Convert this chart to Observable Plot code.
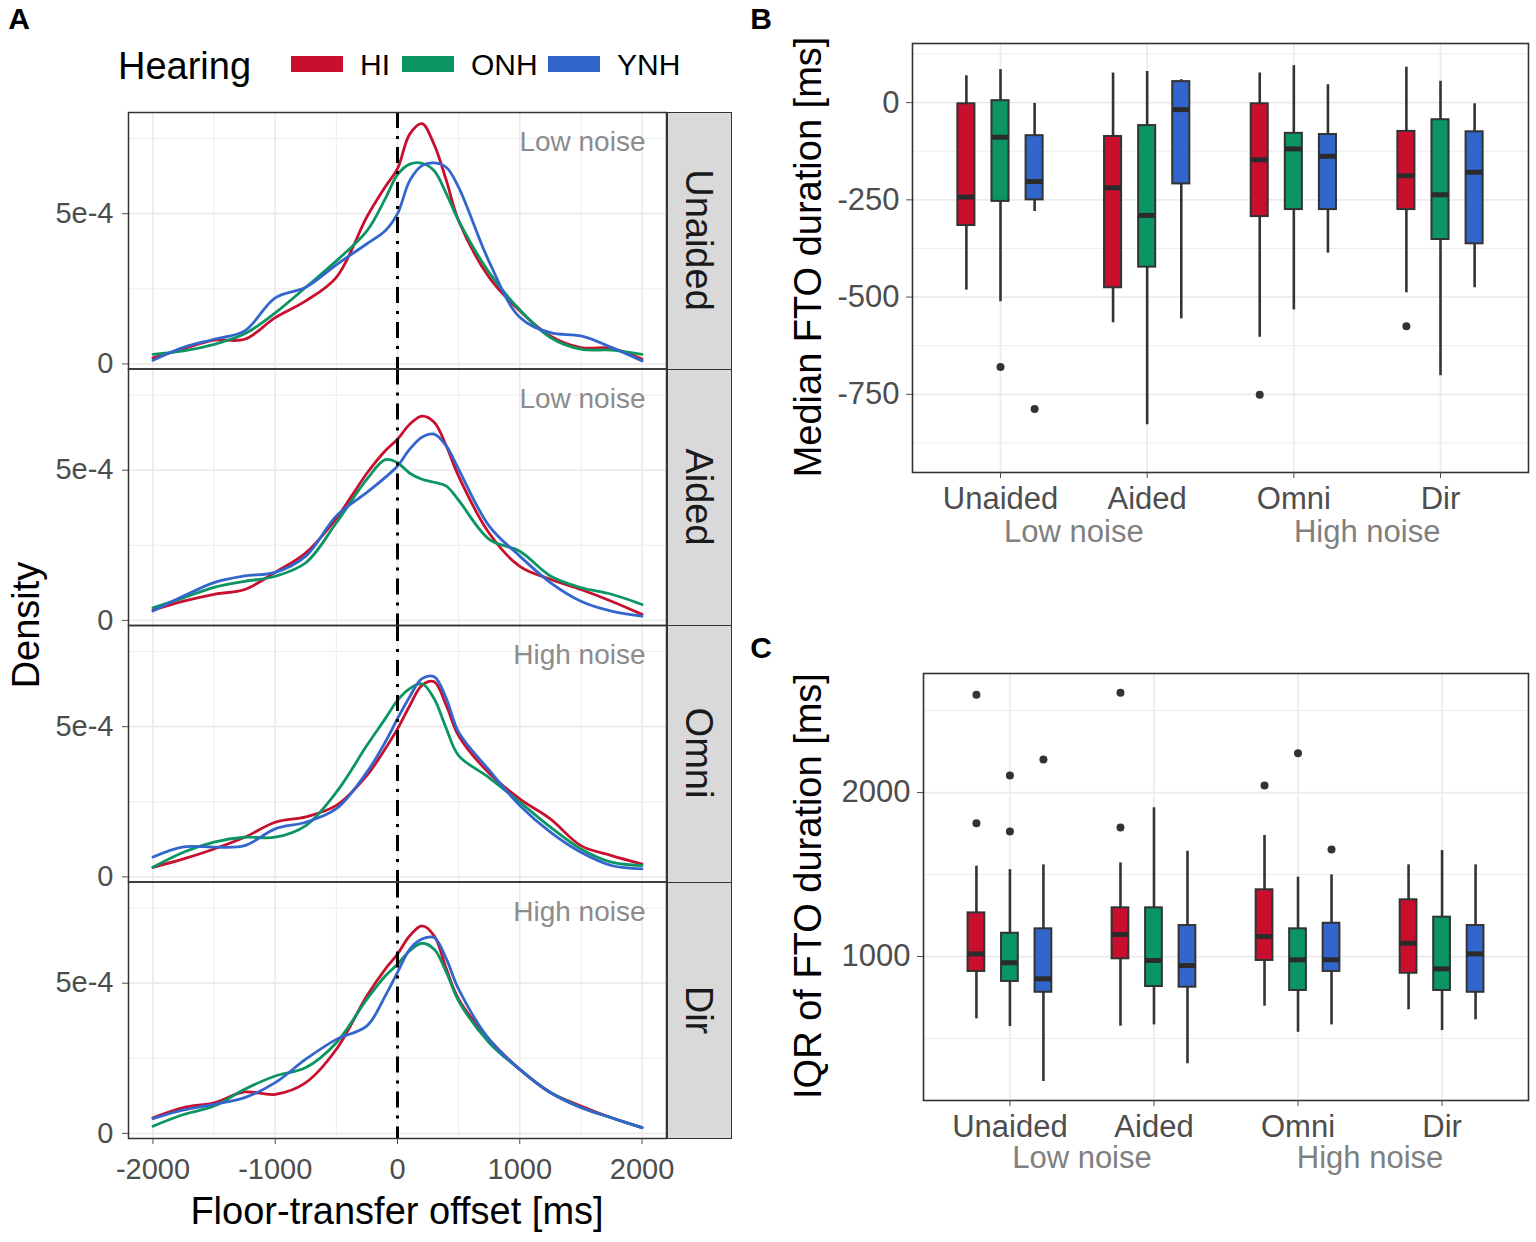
<!DOCTYPE html>
<html><head><meta charset="utf-8">
<script src="https://cdn.jsdelivr.net/npm/d3@7"></script>
<script src="https://cdn.jsdelivr.net/npm/@observablehq/plot@0.6"></script>
<style>
body{margin:0;background:#fff;}
#root{position:relative;width:1536px;height:1242px;overflow:hidden;background:#fff;font-family:'Liberation Sans',Arial,Helvetica,sans-serif;}
#root svg{position:absolute;}
.t{position:absolute;white-space:nowrap;line-height:1;}
.strip{position:absolute;box-sizing:border-box;background:#d9d9d9;border:1.5px solid #333;}
</style></head>
<body><div id="root"></div>
<script>
// ---------- data ----------
const conditions = ["Unaided", "Aided", "Omni", "Dir"];
const groups = ["HI", "ONH", "YNH"];
const groupColors = ["#c8102e", "#0b9563", "#3366cc"];
const noiseLevels = ["Low noise", "Low noise", "High noise", "High noise"];
const noiseGroupAt = ["Unaided", "Omni"];
const noiseGroupLabels = ["Low noise", "High noise"];

// Panel A: density (units of 1e-4) at these offsets [ms]
const offsetsMs = [-2000,-1750,-1500,-1250,-1000,-750,-500,-250,-100,0,100,200,300,400,500,750,1000,1250,1500,1750,2000];
const unaidedHI  = [0.20,0.50,0.79,0.82,1.54,2.10,2.88,4.90,5.90,6.50,7.65,8.00,7.30,6.10,4.77,2.88,1.77,0.93,0.54,0.52,0.16];
const unaidedONH = [0.32,0.43,0.65,1.00,1.70,2.55,3.43,4.43,5.50,6.30,6.65,6.68,6.43,5.66,4.77,3.04,1.80,0.88,0.49,0.46,0.32];
const unaidedYNH = [0.12,0.55,0.82,1.10,2.20,2.55,3.30,4.00,4.43,5.00,6.10,6.60,6.69,6.54,5.88,3.40,1.55,1.04,0.93,0.55,0.10];
const aidedHI    = [0.34,0.64,0.87,1.03,1.60,2.25,3.40,4.90,5.65,6.03,6.53,6.80,6.60,5.80,4.80,2.90,1.80,1.37,1.03,0.64,0.20];
const aidedONH   = [0.42,0.75,1.10,1.30,1.47,1.92,3.25,4.70,5.35,5.25,4.90,4.70,4.60,4.47,4.00,2.70,2.30,1.48,1.09,0.87,0.53];
const aidedYNH   = [0.31,0.81,1.26,1.48,1.60,2.14,3.48,4.26,4.76,5.14,5.70,6.10,6.20,5.80,5.03,3.14,2.14,1.26,0.64,0.31,0.14];
const omniHI     = [0.32,0.60,0.93,1.32,1.82,2.00,2.38,3.38,4.27,4.93,5.70,6.38,6.50,5.70,4.70,3.45,2.60,1.93,1.04,0.71,0.43];
const omniONH    = [0.32,0.82,1.16,1.32,1.32,1.71,2.82,4.38,5.27,5.88,6.27,6.43,5.93,4.93,4.04,3.30,2.49,1.66,0.93,0.49,0.38];
const omniYNH    = [0.66,1.00,0.99,1.04,1.60,1.82,2.27,3.49,4.49,5.27,6.00,6.60,6.66,5.93,4.82,3.55,2.38,1.49,0.82,0.38,0.27];
const dirHI      = [0.52,0.86,1.02,1.38,1.30,1.69,2.80,4.58,5.47,5.97,6.58,6.91,6.58,5.47,4.47,3.13,2.13,1.36,0.91,0.52,0.19];
const dirONH     = [0.24,0.63,0.91,1.47,1.91,2.19,3.02,4.47,5.24,5.63,6.08,6.33,6.13,5.36,4.41,3.02,2.13,1.36,0.86,0.52,0.19];
const dirYNH     = [0.49,0.78,0.97,1.19,1.69,2.47,3.13,3.58,4.58,5.36,6.13,6.47,6.52,5.80,4.80,3.13,2.13,1.36,0.86,0.52,0.19];
const densTicksX = [-2000, -1000, 0, 1000, 2000];
const densMinorX = [-1500, -500, 500, 1500];
const densTicksY = [0, 5];
const densMinorY = [2.5, 7.5];

// Panel B: median FTO duration, order: condition x group
const bLo  = [-482,-512,-280, -566,-828,-556, -603,-533,-387, -489,-702,-476];
const bQ1  = [-316,-254,-250, -476,-423,-209, -293,-275,-275, -275,-352,-363];
const bMed = [-243, -89,-203, -219,-290, -18, -147,-119,-138, -188,-237,-179];
const bQ3  = [  -3,   5, -85,  -87, -59,  54,   -3, -79, -82,  -74, -44, -75];
const bHi  = [  69,  85,  -2,   76,  80,  59,   76,  95,  46,   91,  55,  -3];
const bOutCond  = ["Unaided", "Unaided", "Omni", "Dir"];
const bOutGroup = ["ONH", "YNH", "HI", "HI"];
const bOutVal   = [-680, -788, -751, -575];
const bTicks = [0, -250, -500, -750];
const bMinor = [125, -125, -375, -625, -875];

// Panel C: IQR of FTO duration
const cLo  = [620, 573, 238,  575, 583, 346,  697, 538, 583,  675, 549, 614];
const cQ1  = [909, 848, 782,  986, 817, 813,  976, 793, 909,  898, 793, 782];
const cMed = [1016, 962, 864, 1134, 976, 945, 1122, 980, 980, 1081, 925, 1016];
const cQ3  = [1266,1142,1169, 1297,1297,1189, 1407,1169,1203, 1346,1240,1189];
const cHi  = [1551,1530,1559, 1571,1907,1642, 1738,1484,1498, 1559,1646,1559];
const cOutCond  = ["Unaided","Unaided","Unaided","Unaided","Unaided","Aided","Aided","Omni","Omni","Omni"];
const cOutGroup = ["HI","HI","ONH","ONH","YNH","HI","HI","HI","ONH","YNH"];
const cOutVal   = [2596, 1813, 2104, 1762, 2201, 2608, 1787, 2043, 2240, 1652];
const cTicks = [1000, 2000];
const cMinor = [500, 1500, 2500];

// ---------- helpers ----------
const root = document.getElementById("root");
const FONT = "'Liberation Sans', Arial, Helvetica, sans-serif";
const GRID = "#ebebeb";
const AXIS = "#4d4d4d";
function label(text, x, y, size, opts = {}) {
  const d = document.createElement("div");
  d.className = "t";
  d.textContent = text;
  const rot = opts.rotate || 0;
  const tx = opts.anchor === "start" ? "0" : "-50%";
  Object.assign(d.style, {
    left: x + "px", top: y + "px", fontSize: size + "px",
    color: opts.color || "#000", fontWeight: opts.weight || "normal",
    transform: `translate(${tx},-50%) rotate(${rot}deg)`, transformOrigin: opts.anchor === "start" ? "left center" : "center"
  });
  root.appendChild(d);
  return d;
}
function place(svg, left, top) {
  svg.style.left = left + "px";
  svg.style.top = top + "px";
  root.appendChild(svg);
}

// ---------- Panel A ----------
const densSeries = [
  ["Unaided", "HI", unaidedHI], ["Unaided", "ONH", unaidedONH], ["Unaided", "YNH", unaidedYNH],
  ["Aided", "HI", aidedHI], ["Aided", "ONH", aidedONH], ["Aided", "YNH", aidedYNH],
  ["Omni", "HI", omniHI], ["Omni", "ONH", omniONH], ["Omni", "YNH", omniYNH],
  ["Dir", "HI", dirHI], ["Dir", "ONH", dirONH], ["Dir", "YNH", dirYNH]
];
const densRows = densSeries.flatMap(([cond, group, vals]) => vals.map((v, i) => ({cond, group, x: offsetsMs[i], v})));
const noiseRows = conditions.map((c, i) => ({cond: c, label: noiseLevels[i]}));

const A_TOP = 112, A_BOTTOM = 1138, A_LEFT = 128, A_RIGHT = 666;
const plotA = Plot.plot({
  width: 740, height: 1242,
  marginLeft: A_LEFT, marginRight: 740 - A_RIGHT, marginTop: A_TOP, marginBottom: 1242 - A_BOTTOM,
  style: {fontFamily: FONT, fontSize: "29px", background: "transparent", overflow: "visible"},
  x: {domain: [-2200, 2200]},
  y: {domain: [-0.17, 8.37]},
  fy: {domain: conditions, paddingInner: 0, paddingOuter: 0, round: false, axis: null},
  color: {domain: groups, range: groupColors},
  marks: [
    Plot.ruleX(densMinorX, {stroke: GRID, strokeWidth: 0.9}),
    Plot.ruleX(densTicksX, {stroke: GRID, strokeWidth: 1.7}),
    Plot.ruleY(densMinorY, {stroke: GRID, strokeWidth: 0.9}),
    Plot.ruleY(densTicksY, {stroke: GRID, strokeWidth: 1.7}),
    Plot.line(densRows, {fy: "cond", x: "x", y: "v", z: "group", stroke: "group", curve: "catmull-rom", strokeWidth: 2.8}),
    Plot.ruleX([0], {stroke: "#000", strokeWidth: 3, strokeDasharray: "16,8,3,8"}),
    Plot.text(noiseRows, {fy: "cond", text: "label", frameAnchor: "top-right", textAnchor: "end", lineAnchor: "top", dx: -21, dy: 19, fontSize: 28, fill: "#8c8c8c"}),
    Plot.frame({stroke: "#333", strokeWidth: 1.5}),
    Plot.axisY(densTicksY, {tickSize: 6, tickPadding: 9, tickFormat: d => d === 0 ? "0" : d + "e-4", label: null, color: AXIS}),
    Plot.axisX(densTicksX, {tickSize: 6, tickPadding: 14, tickFormat: d => String(d), label: null, color: AXIS})
  ]
});
place(plotA, 0, 0);

// strips
const facetH = (A_BOTTOM - A_TOP) / conditions.length;
conditions.forEach((c, i) => {
  const s = document.createElement("div");
  s.className = "strip";
  Object.assign(s.style, {left: (A_RIGHT + 0.5) + "px", top: (A_TOP + i * facetH) + "px", width: "65px", height: (facetH + 1) + "px"});
  root.appendChild(s);
  label(c, 699, A_TOP + (i + 0.5) * facetH, 38, {rotate: 90, color: "#1a1a1a"});
});

// legend
label("Hearing", 118, 66, 38, {anchor: "start"});
const legendX = [291, 402, 548];
const legendTextX = [360, 471, 617];
groups.forEach((g, i) => {
  const sw = document.createElement("div");
  Object.assign(sw.style, {position: "absolute", left: legendX[i] + "px", top: "56px", width: "52px", height: "16px", background: groupColors[i]});
  root.appendChild(sw);
  label(g, legendTextX[i], 65, 30, {anchor: "start"});
});
label("Density", 26, 625, 38, {rotate: -90});
label("Floor-transfer offset [ms]", 397, 1211, 38);
label("A", 19, 19, 30, {weight: "bold"});

// ---------- Panels B & C ----------
const boxKeys = conditions.flatMap(c => groups.map(g => ({cond: c, group: g})));
function boxPanel({left, top, width, height, mL, mR, mT, mB, domain, ticks, minor, lo, q1, med, q3, hi, outCond, outGroup, outVal, noiseDy}) {
  const boxes = boxKeys.map((k, i) => ({...k, lo: lo[i], q1: q1[i], med: med[i], q3: q3[i], hi: hi[i]}));
  const outs = outVal.map((v, i) => ({cond: outCond[i], group: outGroup[i], v}));
  const noiseRowsBC = noiseGroupAt.map((c, i) => ({cond: c, label: noiseGroupLabels[i]}));
  const common = {width, height, marginLeft: mL, marginRight: mR, marginTop: mT, marginBottom: mB};
  const bg = Plot.plot({
    ...common,
    style: {fontFamily: FONT, fontSize: "31px", background: "transparent", overflow: "visible"},
    x: {type: "band", domain: conditions, paddingInner: 0, paddingOuter: 0.1, round: false},
    y: {domain},
    marks: [
      Plot.ruleY(minor, {stroke: GRID, strokeWidth: 0.9}),
      Plot.ruleY(ticks, {stroke: GRID, strokeWidth: 1.7}),
      Plot.ruleX(conditions, {stroke: GRID, strokeWidth: 1.7}),
      Plot.frame({stroke: "#333", strokeWidth: 1.6}),
      Plot.axisY(ticks, {tickSize: 6, tickPadding: 7, tickFormat: d => String(d), label: null, color: AXIS}),
      Plot.axisX(conditions, {tickSize: 6, tickPadding: 8, label: null, color: AXIS})
    ]
  });
  place(bg, left, top);
  const fg = Plot.plot({
    ...common,
    style: {fontFamily: FONT, fontSize: "31px", background: "transparent", overflow: "visible"},
    fx: {domain: conditions, paddingInner: 0, paddingOuter: 0.1, round: false, axis: null},
    x: {domain: groups, paddingInner: 0.5, paddingOuter: 0.9, round: false, axis: null},
    y: {domain, axis: null},
    color: {domain: groups, range: groupColors},
    marks: [
      Plot.ruleX(boxes, {fx: "cond", x: "group", y1: "lo", y2: "hi", stroke: "#333", strokeWidth: 2.6}),
      Plot.barY(boxes, {fx: "cond", x: "group", y1: "q1", y2: "q3", fill: "group", stroke: "#333", strokeWidth: 2}),
      Plot.tickY(boxes, {fx: "cond", x: "group", y: "med", stroke: "#2b2b2b", strokeWidth: 5}),
      Plot.dot(outs, {fx: "cond", x: "group", y: "v", r: 4, fill: "#333", stroke: "none"}),
      Plot.text(noiseRowsBC, {fx: "cond", text: "label", frameAnchor: "bottom-right", textAnchor: "middle", lineAnchor: "middle", dy: noiseDy, fontSize: 31, fill: "#808080"})
    ]
  });
  place(fg, left, top);
}

boxPanel({left: 750, top: 0, width: 786, height: 560, mL: 162, mR: 8, mT: 43, mB: 88,
  domain: [-951, 152], ticks: bTicks, minor: bMinor,
  lo: bLo, q1: bQ1, med: bMed, q3: bQ3, hi: bHi,
  outCond: bOutCond, outGroup: bOutGroup, outVal: bOutVal, noiseDy: 60});
boxPanel({left: 750, top: 630, width: 786, height: 612, mL: 173, mR: 8, mT: 43, mB: 142,
  domain: [122, 2726], ticks: cTicks, minor: cMinor,
  lo: cLo, q1: cQ1, med: cMed, q3: cQ3, hi: cHi,
  outCond: cOutCond, outGroup: cOutGroup, outVal: cOutVal, noiseDy: 58});

label("Median FTO duration [ms]", 808, 257, 38, {rotate: -90});
label("IQR of FTO duration [ms]", 808, 886, 38, {rotate: -90});
label("B", 761, 19, 30, {weight: "bold"});
label("C", 761, 648, 30, {weight: "bold"});
</script>
</body></html>
